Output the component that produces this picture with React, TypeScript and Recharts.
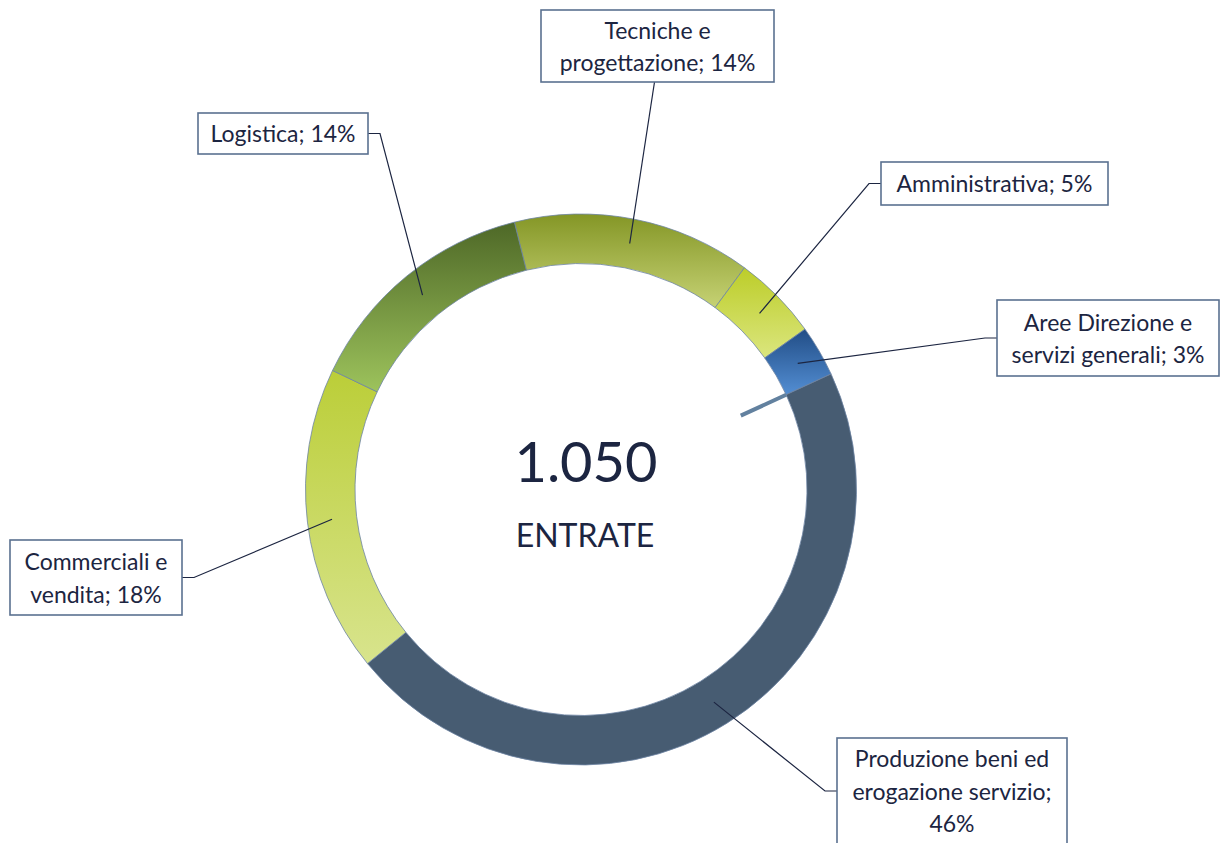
import { Cell, Pie, PieChart } from "recharts";

// Entrate by professional area — doughnut with boxed call-out labels.
const categories = [
  "Tecniche e progettazione",
  "Amministrativa",
  "Aree Direzione e servizi generali",
  "Produzione beni ed erogazione servizio",
  "Commerciali e vendita",
  "Logistica",
];
const shares = [14, 5, 3, 46, 18, 14];
const totalLabel = "1.050";
const totalCaption = "ENTRATE";

// gradient stops per slice (top -> bottom), flat fill for Produzione
const sliceGradients: [string, string][] = [
  ["#849626", "#c6d274"],
  ["#bccd29", "#dbe67e"],
  ["#214d86", "#538ed3"],
  ["#475c72", "#475c72"],
  ["#bbce38", "#d8e48d"],
  ["#4e6827", "#9dc35c"],
];

// where each call-out box sits and which side its leader leaves from
type Box = { x: number; y: number; w: number; h: number; side: "bottom" | "left" | "right"; maxChars: number };
const labelBoxes: Box[] = [
  { x: 541, y: 10, w: 233, h: 72, side: "bottom", maxChars: 18 },
  { x: 881, y: 162, w: 227, h: 43, side: "left", maxChars: 40 },
  { x: 997, y: 300, w: 222, h: 76, side: "left", maxChars: 20 },
  { x: 837, y: 738, w: 230, h: 106, side: "left", maxChars: 20 },
  { x: 10, y: 540, w: 172, h: 75, side: "right", maxChars: 13 },
  { x: 198, y: 113, w: 170, h: 41, side: "right", maxChars: 40 },
];

const data = categories.map((name, i) => ({ name, value: shares[i] }));

const FONT = "Lato, 'Open Sans', sans-serif";
const INK = "#1c2541";
const RAD = Math.PI / 180;

function wrap(text: string, maxChars: number) {
  const lines: string[] = [];
  let cur = "";
  for (const word of text.split(" ")) {
    const next = cur ? `${cur} ${word}` : word;
    if (next.length > maxChars && cur) {
      lines.push(cur);
      cur = word;
    } else {
      cur = next;
    }
  }
  if (cur) lines.push(cur);
  return lines;
}

function renderCallout(props: any) {
  const { cx, cy, midAngle, innerRadius, outerRadius, startAngle, name, value, index } = props;
  const box = labelBoxes[index];
  const r = (innerRadius + outerRadius) / 2;
  const ax = cx + r * Math.cos(-midAngle * RAD);
  const ay = cy + r * Math.sin(-midAngle * RAD);

  let pts: number[][];
  if (box.side === "bottom") {
    pts = [[box.x + box.w / 2 - 3, box.y + box.h], [ax, ay]];
  } else if (box.side === "left") {
    const my = box.y + box.h / 2;
    pts = [[box.x, my], [box.x - 12, my], [ax, ay]];
  } else {
    const my = box.y + box.h / 2;
    pts = [[box.x + box.w, my], [box.x + box.w + 12, my], [ax, ay]];
  }

  const lines = wrap(`${name}; ${value}%`, box.maxChars);
  const lineH = 32.5;
  const first = box.y + (box.h - lines.length * lineH) / 2 + 25;

  // short stray tick on the inner edge where Produzione begins
  let tick = null;
  if (index === 3) {
    const a = -startAngle * RAD;
    tick = (
      <line
        x1={cx + (innerRadius - 50) * Math.cos(a)}
        y1={cy + (innerRadius - 50) * Math.sin(a)}
        x2={cx + innerRadius * Math.cos(a)}
        y2={cy + innerRadius * Math.sin(a)}
        stroke="#62819f"
        strokeWidth={4}
      />
    );
  }

  // total in the hole, drawn once
  let center = null;
  if (index === 0) {
    center = (
      <g>
        <text x={cx + 5} y={cy - 8} textAnchor="middle" fontFamily={FONT} fontSize={56} fill={INK}>
          {totalLabel}
        </text>
        <text x={cx + 4} y={cy + 57} textAnchor="middle" fontFamily={FONT} fontSize={32} fill={INK}>
          {totalCaption}
        </text>
      </g>
    );
  }

  return (
    <g key={`callout-${index}`}>
      {center}
      {tick}
      <polyline points={pts.map((p) => p.join(",")).join(" ")} fill="none" stroke={INK} strokeWidth={1.2} />
      <rect x={box.x} y={box.y} width={box.w} height={box.h} fill="#fff" stroke="#5a7190" strokeWidth={1.6} />
      <text x={box.x + box.w / 2} textAnchor="middle" fontFamily={FONT} fontSize={23} fill={INK}>
        {lines.map((l, i) => (
          <tspan key={i} x={box.x + box.w / 2} y={first + i * lineH}>
            {l}
          </tspan>
        ))}
      </text>
    </g>
  );
}

export default function App() {
  return (
    <div style={{ position: "absolute", left: 0, top: 0, width: 1224, height: 843, background: "#fff" }}>
      <PieChart width={1224} height={843} margin={{ top: 0, right: 0, bottom: 0, left: 0 }}>
        <defs>
          {sliceGradients.map(([a, b], i) => (
            <linearGradient key={i} id={`slice-${i}`} x1="0" y1="0" x2="0" y2="1">
              <stop offset="0%" stopColor={a} />
              <stop offset="100%" stopColor={b} />
            </linearGradient>
          ))}
        </defs>
        <Pie
          data={data}
          dataKey="value"
          nameKey="name"
          cx={581}
          cy={489.5}
          innerRadius={226}
          outerRadius={275.5}
          startAngle={104}
          endAngle={-256}
          stroke="#6d84a3"
          strokeWidth={0.8}
          label={renderCallout}
          labelLine={false}
          isAnimationActive={false}
        >
          {data.map((d, i) => (
            <Cell key={d.name} fill={`url(#slice-${i})`} />
          ))}
        </Pie>
      </PieChart>
    </div>
  );
}
